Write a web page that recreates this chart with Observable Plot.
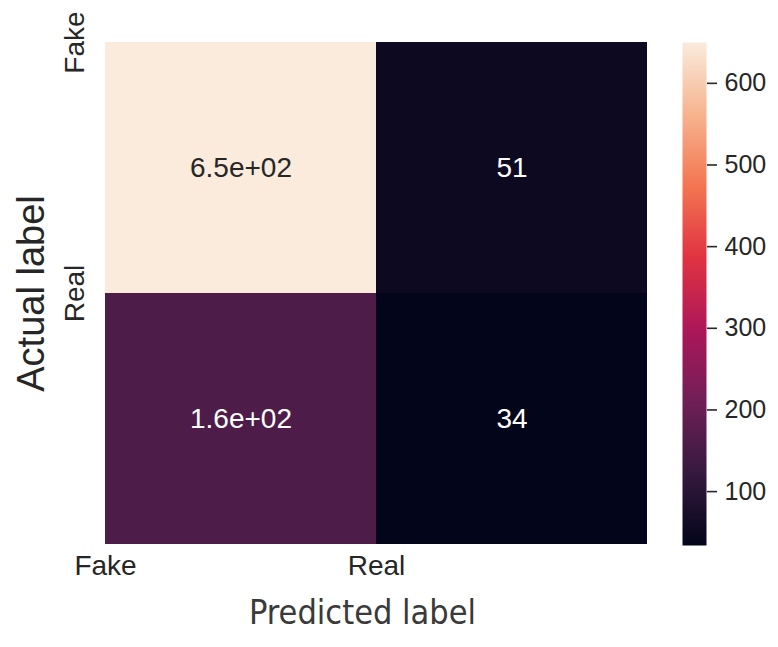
<!DOCTYPE html>
<html>
<head>
<meta charset="utf-8">
<script src="https://cdn.jsdelivr.net/npm/d3@7"></script>
<script src="https://cdn.jsdelivr.net/npm/@observablehq/plot@0.6"></script>
<style>
  body { margin: 0; background: #ffffff; }
  #chart { position: relative; width: 778px; height: 647px; }
  #chart svg { position: absolute; left: 0; top: 0; }
</style>
</head>
<body>
<div id="chart"></div>
<script>
// Confusion matrix: rows are actual labels, columns are predicted labels
const actualLabels = ["Fake", "Real"];
const predictedLabels = ["Fake", "Real"];
const countsFake = [650, 51];   // actual Fake -> predicted Fake, Real
const countsReal = [160, 34];   // actual Real -> predicted Fake, Real
const colorbarTicks = [100, 200, 300, 400, 500, 600];

// "rocket" colour ramp stops
const rocketStops = ["#03051a", "#35193e", "#701f57", "#ad1759", "#e13342", "#f37651", "#f6b48f", "#faebdd"];
const rocket = d3.piecewise(d3.interpolateRgb, rocketStops);

const counts = [countsFake, countsReal];
const cells = actualLabels.flatMap((a, i) =>
  predictedLabels.map((p, j) => ({row: i, col: j, actual: a, predicted: p, value: counts[i][j]}))
);
const vmin = d3.min(cells, d => d.value);
const vmax = d3.max(cells, d => d.value);
const colorScale = {type: "linear", domain: [vmin, vmax], interpolate: rocket};

// two significant digits, Python "g" style (6.5e+02)
function fmtG(v) {
  const e = Math.floor(Math.log10(Math.abs(v)));
  if (e >= 2 || e < -4) {
    const [m, x] = v.toExponential(1).split("e");
    const n = +x;
    return m + "e" + (n < 0 ? "-" : "+") + String(Math.abs(n)).padStart(2, "0");
  }
  return d3.format(".2~g")(v);
}
const isLight = d => d3.lab(rocket((d.value - vmin) / (vmax - vmin))).l > 50;

const font = "'Liberation Sans', Arial, sans-serif";

const main = Plot.plot({
  width: 778,
  height: 647,
  marginLeft: 105,
  marginRight: 131,
  marginTop: 42,
  marginBottom: 103,
  style: {fontFamily: font, color: "#262626", background: "transparent"},
  x: {domain: [0, 2], axis: null},
  y: {domain: [0, 2], reverse: true, axis: null},
  color: colorScale,
  marks: [
    Plot.rect(cells, {x1: "col", x2: d => d.col + 1, y1: "row", y2: d => d.row + 1, fill: "value"}),
    Plot.text(cells, {filter: isLight, x: d => d.col + 0.5, y: d => d.row + 0.5, text: d => fmtG(d.value), fill: "#262626", fontSize: 28}),
    Plot.text(cells, {filter: d => !isLight(d), x: d => d.col + 0.5, y: d => d.row + 0.5, text: d => fmtG(d.value), fill: "#ffffff", fontSize: 28}),
    Plot.axisX({ticks: [0, 1], tickFormat: i => predictedLabels[i], tickSize: 0, tickPadding: 11, fontSize: 28, label: null}),
    Plot.axisY({ticks: [0, 1], tickFormat: i => actualLabels[i], tickSize: 0, tickPadding: 22, rotate: -90, textAnchor: "middle", lineAnchor: "bottom", fontSize: 28, label: null}),
    Plot.text(["Actual label"], {frameAnchor: "left", rotate: -90, dx: -62, textAnchor: "middle", lineAnchor: "bottom", fontSize: 38, fill: "#262626"}),
    Plot.text(["Predicted label"], {frameAnchor: "bottom", dx: -14, dy: 55, lineAnchor: "top", fontSize: 34, fill: "#3a3a3a", fontFamily: "'DejaVu Sans Condensed', 'DejaVu Sans', sans-serif"})
  ]
});

const colorbar = Plot.plot({
  width: 778,
  height: 647,
  marginLeft: 682,
  marginRight: 72,
  marginTop: 42,
  marginBottom: 102,
  style: {fontFamily: font, color: "#262626", background: "transparent"},
  x: {domain: [0, 1], axis: null},
  y: {domain: [vmin, vmax], axis: null},
  color: colorScale,
  marks: [
    Plot.raster({x1: 0, x2: 1, y1: vmin, y2: vmax, fill: (x, y) => y, pixelSize: 1}),
    Plot.axisY({anchor: "right", ticks: colorbarTicks, tickSize: 10, tickPadding: 8, fontSize: 25, strokeWidth: 1.6, label: null})
  ]
});

const chart = document.getElementById("chart");
chart.appendChild(main);
chart.appendChild(colorbar);
</script>
</body>
</html>
